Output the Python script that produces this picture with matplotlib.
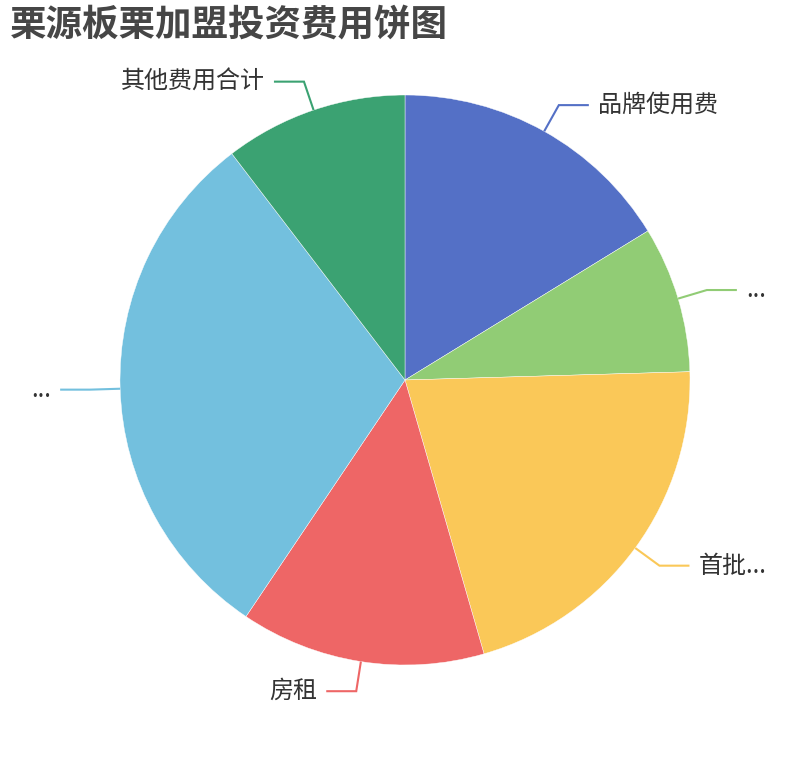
import numpy as np
import matplotlib
matplotlib.use("Agg")
import matplotlib.pyplot as plt

plt.rcParams['font.family'] = ['Noto Sans CJK SC', 'DejaVu Sans']

title = "栗源板栗加盟投资费用饼图"
labels = ["品牌使用费", "...", "首批...", "房租", "...", "其他费用合计"]
values = [16.25, 8.3, 21.0, 13.9, 30.2, 10.4]
colors = ["#5470c6", "#91cc75", "#fac858", "#ee6666", "#73c0de", "#3ba272"]

W, H = 810, 760
fig = plt.figure(figsize=(W / 100, H / 100), dpi=100)
ax = fig.add_axes([0, 0, 1, 1])

cx, cy, R = 405, H - 380, 285
ax.pie(values, colors=colors, startangle=90, counterclock=False,
       center=(cx, cy), radius=R,
       wedgeprops=dict(linewidth=0.3, edgecolor='white'))
ax.set_xlim(0, W)
ax.set_ylim(0, H)
ax.set_aspect('equal')
ax.axis('off')

total = sum(values)
cum = 0.0
len1, len2, gap = 30, 30, 9
for lab, v, c in zip(labels, values, colors):
    mid = (cum + v / 2) / total * 360.0
    cum += v
    th = np.deg2rad(90 - mid)
    x0, y0 = cx + R * np.cos(th), cy + R * np.sin(th)
    x1, y1 = cx + (R + len1) * np.cos(th), cy + (R + len1) * np.sin(th)
    d = 1 if np.cos(th) >= 0 else -1
    x2 = x1 + d * len2
    ax.plot([x0, x1, x2], [y0, y1, y1], color=c, lw=1.5, solid_capstyle='butt',
            solid_joinstyle='miter', zorder=3)
    ax.text(x2 + d * gap, y1, lab, ha='left' if d > 0 else 'right', va='center',
            fontsize=17.3, color='#333333')

fig.text(10 / W, 1 - 25 / H, title, ha='left', va='center', fontsize=26.3,
         fontweight='bold', color='#464646')

fig.savefig("out.png", dpi=100)
